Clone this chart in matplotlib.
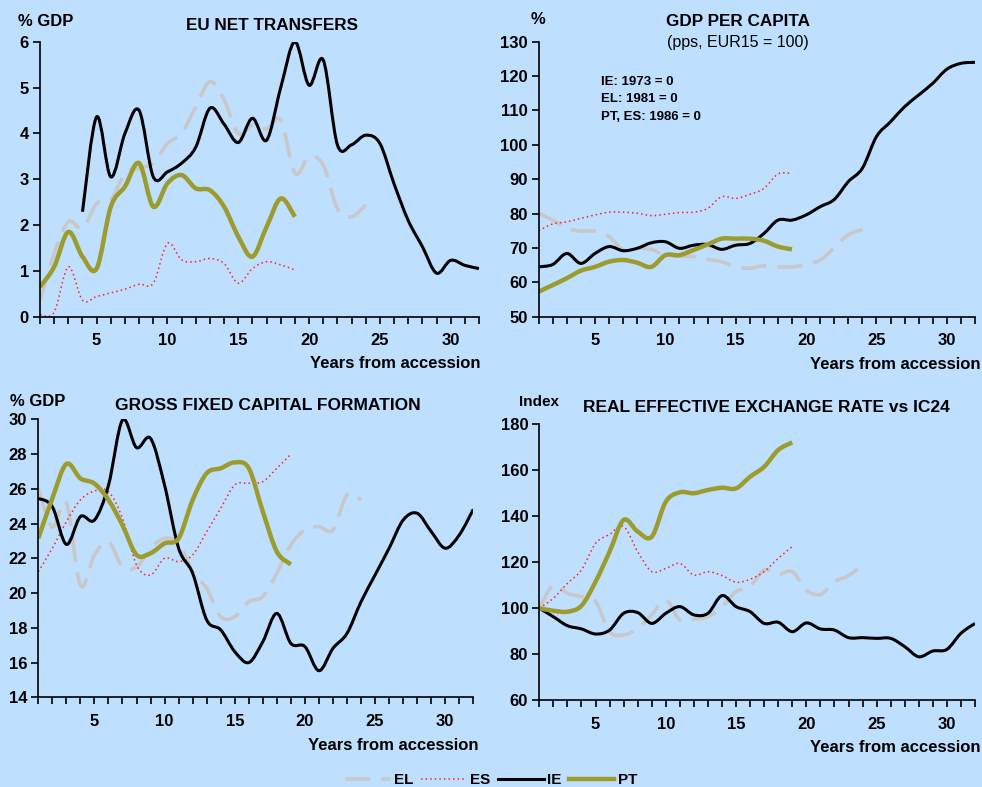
import numpy as np
import matplotlib
matplotlib.use("Agg")
import matplotlib.pyplot as plt
from matplotlib.path import Path
from matplotlib.patches import PathPatch
from matplotlib.lines import Line2D

plt.rcParams['font.family'] = ['Liberation Sans', 'DejaVu Sans']

BG = '#BFDFFF'
EL_C = '#C8C8C8'
ES_C = '#FF2020'
IE_C = '#000000'
PT_C = '#9C9C2E'

years = np.arange(1, 33)

# EU net transfers (% GDP)
tr_ie = [2.29, 4.36, 3.05, 4.0, 4.5, 3.05, 3.16, 3.35, 3.7, 4.55, 4.2, 3.8, 4.33, 3.85,
         5.0, 6.0, 5.05, 5.6, 3.75, 3.75, 3.96, 3.78, 2.9, 2.1, 1.53, 0.95, 1.23, 1.12, 1.05]
tr_el = [0.36, 1.38, 2.07, 1.93, 2.47, 2.55, 3.13, 3.24, 3.35, 3.78, 4.0, 4.58, 5.13, 4.73,
         4.0, 4.18, 4.1, 4.29, 3.13, 3.49, 3.31, 2.36, 2.18, 2.44]
tr_pt = [0.65, 1.09, 1.85, 1.31, 1.05, 2.4, 2.84, 3.35, 2.4, 2.91, 3.09, 2.8, 2.76, 2.4,
         1.75, 1.31, 1.96, 2.58, 2.18]
tr_es = [0.04, 0.1, 1.09, 0.36, 0.44, 0.52, 0.6, 0.71, 0.73, 1.6, 1.24, 1.2, 1.27, 1.16,
         0.73, 1.05, 1.2, 1.13, 1.02]

# GDP per capita (pps, EUR15 = 100)
gdp_ie = [64.5, 65.2, 68.4, 65.5, 68.4, 70.4, 69.2, 69.9, 71.5, 71.8, 69.9, 70.8, 71.0, 69.6,
          70.8, 71.3, 74.2, 78.1, 78.1, 79.6, 82.0, 84.1, 89.3, 93.2, 102.4, 106.7, 111.1,
          114.5, 117.9, 122.0, 123.7, 124.0]
gdp_el = [80.1, 78.1, 75.7, 74.9, 74.9, 73.3, 69.4, 69.9, 69.6, 67.9, 67.6, 67.5, 66.7, 66.0,
          64.5, 64.1, 64.8, 64.5, 64.5, 65.2, 66.5, 70.1, 73.8, 75.4]
gdp_pt = [57.3, 59.2, 61.2, 63.4, 64.5, 66.0, 66.5, 65.7, 64.5, 67.9, 67.9, 69.4, 71.0, 72.7,
          72.7, 72.7, 72.1, 70.4, 69.6]
gdp_es = [75.0, 77.0, 77.6, 78.6, 79.6, 80.4, 80.4, 80.1, 79.4, 79.8, 80.3, 80.4, 81.5, 84.9,
          84.4, 85.6, 87.3, 91.5, 91.7]

# Gross fixed capital formation (% GDP)
gf_ie = [25.45, 24.97, 22.8, 24.4, 24.2, 26.2, 29.96, 28.37, 28.9, 26.2, 22.58, 21.14, 18.45,
         17.88, 16.63, 16.0, 17.2, 18.83, 17.1, 16.92, 15.53, 16.82, 17.68, 19.5, 21.04,
         22.58, 24.2, 24.59, 23.54, 22.58, 23.34, 24.82]
gf_el = [26.03, 23.8, 25.2, 20.45, 22.19, 22.96, 21.5, 21.5, 22.58, 23.15, 22.86, 21.23, 20.27,
         18.64, 18.64, 19.5, 19.8, 21.14, 22.77, 23.63, 23.82, 23.63, 25.65, 25.36]
gf_pt = [23.15, 25.45, 27.43, 26.6, 26.3, 25.36, 23.9, 22.2, 22.29, 22.86, 23.15, 25.36, 26.9,
         27.18, 27.52, 27.18, 24.69, 22.38, 21.65]
gf_es = [21.23, 22.58, 24.11, 25.36, 25.87, 25.84, 24.3, 21.62, 21.04, 22.0, 21.81, 22.19,
         23.53, 24.88, 26.22, 26.32, 26.41, 27.18, 27.99]

# Real effective exchange rate vs IC24 (index)
rr_ie = [99.9, 96.2, 92.3, 90.9, 88.7, 90.4, 97.7, 98.0, 93.3, 97.7, 100.6, 97.0, 97.7, 105.4,
         100.6, 98.4, 93.3, 93.8, 89.7, 93.5, 90.9, 90.4, 87.1, 87.1, 86.8, 86.8, 83.2, 78.8,
         81.3, 82.0, 89.0, 93.3]
rr_el = [99.9, 110.0, 106.4, 104.9, 102.8, 89.7, 88.3, 91.2, 97.0, 103.5, 94.8, 95.2, 96.2,
         100.6, 107.1, 109.3, 116.5, 114.6, 115.8, 107.8, 105.9, 111.4, 114.1, 118.7]
rr_pt = [99.9, 98.8, 98.4, 101.0, 111.4, 124.5, 138.3, 133.2, 131.0, 146.2, 150.3, 149.9,
         151.3, 152.3, 152.0, 157.1, 161.4, 168.7, 172.0]
rr_es = [99.9, 104.2, 110.7, 116.5, 128.1, 132.0, 135.4, 124.5, 115.8, 117.2, 119.4, 114.3,
         115.8, 114.1, 111.2, 112.5, 115.8, 121.6, 126.7]


def smooth_path(x, y, t=1.0 / 6):
    # Excel style smoothed line: cubic bezier through the data points
    x = np.asarray(x, float)
    y = np.asarray(y, float)
    verts = [(x[0], y[0])]
    codes = [Path.MOVETO]
    n = len(x)
    for i in range(n - 1):
        p0 = i - 1 if i > 0 else i
        p3 = i + 2 if i + 2 < n else i + 1
        c1 = (x[i] + (x[i + 1] - x[p0]) * t, y[i] + (y[i + 1] - y[p0]) * t)
        c2 = (x[i + 1] - (x[p3] - x[i]) * t, y[i + 1] - (y[p3] - y[i]) * t)
        verts += [c1, c2, (x[i + 1], y[i + 1])]
        codes += [Path.CURVE4] * 3
    return Path(verts, codes)


def draw(ax, start, vals, **kw):
    xs = np.arange(start, start + len(vals))
    ax.add_patch(PathPatch(smooth_path(xs, vals), fill=False, capstyle='butt',
                           joinstyle='round', **kw))


EL_KW = dict(edgecolor=EL_C, lw=2.6, linestyle=(0, (7, 3)))
ES_KW = dict(edgecolor=ES_C, lw=1.1, linestyle=(0, (1, 2)))
IE_KW = dict(edgecolor=IE_C, lw=2.2)
PT_KW = dict(edgecolor=PT_C, lw=3.2)

fig = plt.figure(figsize=(9.82, 7.87), dpi=100, facecolor=BG)

H = 787.0
W = 982.0


def make_ax(l, r, top, bot, ylim, yticks):
    ax = fig.add_axes([l / W, 1 - bot / H, (r - l) / W, (bot - top) / H])
    ax.set_facecolor(BG)
    ax.set_xlim(1, 32)
    ax.set_ylim(*ylim)
    ax.set_yticks(yticks)
    ax.set_xticks(years)
    ax.set_xticklabels([str(v) if v % 5 == 0 else '' for v in years])
    for s in ['top', 'right']:
        ax.spines[s].set_visible(False)
    for s in ['left', 'bottom']:
        ax.spines[s].set_linewidth(1.2)
    ax.tick_params(direction='out', length=5, width=1.2, labelsize=12, pad=3)
    for lab in ax.get_xticklabels() + ax.get_yticklabels():
        lab.set_fontweight('bold')
    ax.tick_params(axis='x', pad=7)
    return ax


ax1 = make_ax(40, 479, 41.7, 316.7, (0, 6), range(0, 7))
ax2 = make_ax(538.7, 975, 41.7, 316.7, (50, 130), range(50, 131, 10))
ax3 = make_ax(38.3, 473.3, 419.3, 697.3, (14, 30), range(14, 31, 2))
ax4 = make_ax(539.3, 975, 424, 700, (60, 180), range(60, 181, 20))

draw(ax1, 1, tr_el, **EL_KW)
draw(ax1, 1, tr_es, **ES_KW)
draw(ax1, 4, tr_ie, **IE_KW)
draw(ax1, 1, tr_pt, **PT_KW)

draw(ax2, 1, gdp_el, **EL_KW)
draw(ax2, 1, gdp_es, **ES_KW)
draw(ax2, 1, gdp_ie, **IE_KW)
draw(ax2, 1, gdp_pt, **PT_KW)

draw(ax3, 1, gf_el, **EL_KW)
draw(ax3, 1, gf_es, **ES_KW)
draw(ax3, 1, gf_ie, **IE_KW)
draw(ax3, 1, gf_pt, **PT_KW)

draw(ax4, 1, rr_el, **EL_KW)
draw(ax4, 1, rr_es, **ES_KW)
draw(ax4, 1, rr_ie, **IE_KW)
draw(ax4, 1, rr_pt, **PT_KW)


def ftext(px, py, s, **kw):
    fig.text(px / W, 1 - py / H, s, **kw)


# titles and unit labels
ftext(272, 25, 'EU NET TRANSFERS', ha='center', va='center', fontsize=12.3, fontweight='bold')
ftext(18, 22, '% GDP', ha='left', va='center', fontsize=12, fontweight='bold')
ftext(738, 22, 'GDP PER CAPITA', ha='center', va='center', fontsize=12.3, fontweight='bold')
ftext(738, 43, '(pps, EUR15 = 100)', ha='center', va='center', fontsize=11.5)
ftext(531, 20, '%', ha='left', va='center', fontsize=12, fontweight='bold')
ftext(601, 82, 'IE: 1973 = 0', ha='left', va='center', fontsize=9.5, fontweight='bold')
ftext(601, 99, 'EL: 1981 = 0', ha='left', va='center', fontsize=9.5, fontweight='bold')
ftext(601, 117, 'PT, ES: 1986 = 0', ha='left', va='center', fontsize=9.5, fontweight='bold')
ftext(268, 405, 'GROSS FIXED CAPITAL FORMATION', ha='center', va='center', fontsize=12.5,
      fontweight='bold')
ftext(10, 402, '% GDP', ha='left', va='center', fontsize=12, fontweight='bold')
ftext(519, 402, 'Index', ha='left', va='center', fontsize=11, fontweight='bold')
ftext(766, 407, 'REAL EFFECTIVE EXCHANGE RATE vs IC24', ha='center', va='center',
      fontsize=12.5, fontweight='bold')

# x axis titles
ftext(480, 363, 'Years from accession', ha='right', va='center', fontsize=12, fontweight='bold')
ftext(981, 364, 'Years from accession', ha='right', va='center', fontsize=12, fontweight='bold')
ftext(478, 745, 'Years from accession', ha='right', va='center', fontsize=12, fontweight='bold')
ftext(981, 748, 'Years from accession', ha='right', va='center', fontsize=12, fontweight='bold')

handles = [
    Line2D([], [], color=EL_C, lw=2.6, linestyle=(0, (7, 3))),
    Line2D([], [], color=ES_C, lw=1.1, linestyle=(0, (1, 2))),
    Line2D([], [], color=IE_C, lw=2.2),
    Line2D([], [], color=PT_C, lw=3.2),
]
fig.legend(handles, ['EL', 'ES', 'IE', 'PT'], loc='center', bbox_to_anchor=(0.5, 1 - 780 / H),
           ncol=4, frameon=False, handlelength=3.0, handletextpad=0.2, columnspacing=0.5,
           prop={'weight': 'bold', 'size': 11})

fig.savefig('out.png', dpi=100, facecolor=BG)
